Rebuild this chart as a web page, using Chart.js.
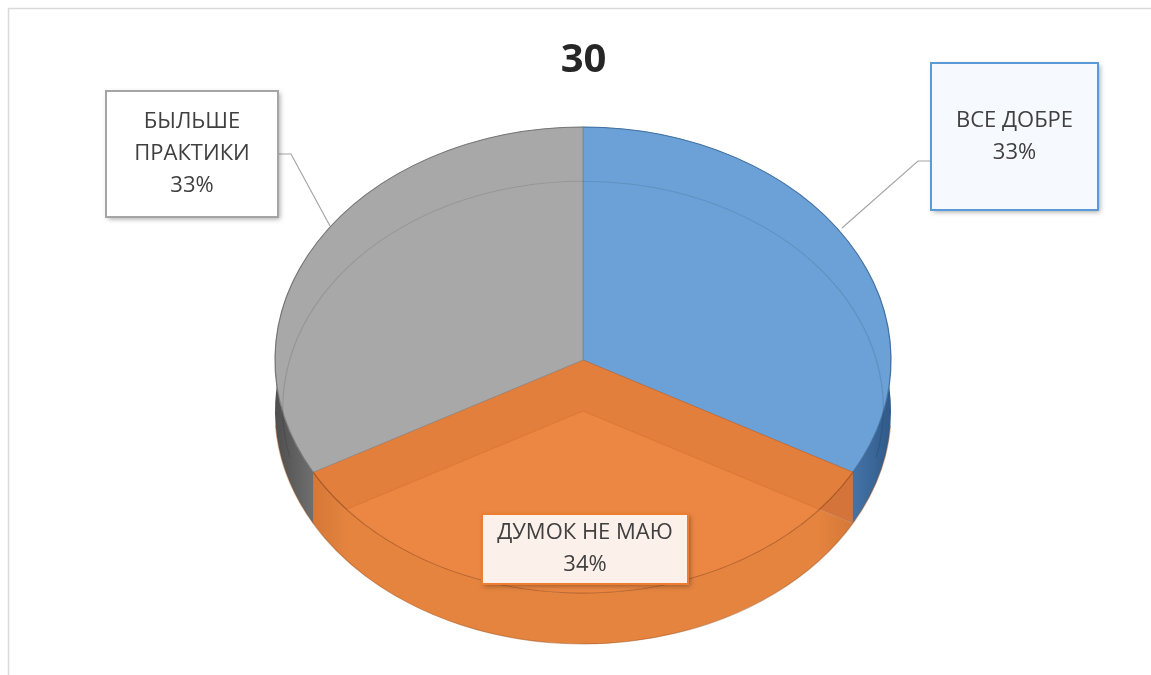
<!DOCTYPE html>
<html>
<head>
<meta charset="utf-8">
<script src="https://cdn.jsdelivr.net/npm/chart.js@4"></script>
<style>
  html, body { margin: 0; padding: 0; background: #fff; overflow: hidden; }
  #wrap { position: absolute; left: 0; top: 0; width: 1151px; height: 675px; }
</style>
</head>
<body>
<div id="wrap"><canvas id="c" width="1151" height="675"></canvas></div>
<script>
// ---- data ----
const chartTitle = '30';
const categories = ['ВСЕ ДОБРЕ', 'ДУМОК НЕ МАЮ', 'БЫЛЬШЕ ПРАКТИКИ'];
const values = [33, 34, 33];
const labelLines = [['ВСЕ ДОБРЕ'], ['ДУМОК НЕ МАЮ'], ['БЫЛЬШЕ', 'ПРАКТИКИ']];

// ---- styles ----
const topColors = ['#6BA1D6', '#E27F3D', '#A8A8A8'];
const edgeColors = ['#4F84BC', '#C9692C', '#8C8C8C'];
const sideMid = ['#5B8CC2', '#E4843F', '#8E8E8E'];
const sideDark = ['#2F5A8A', '#C66A2E', '#4E4E4E'];
const faceColors = ['#4F80B5', '#D5743A', '#7F7F7F'];
const boxFill = ['#F6F9FD', '#FCF0EA', '#FFFFFF'];
const boxStroke = ['#5B9BD5', '#ED7D31', '#A5A5A5'];

const CX = 583, CY = 360, RX = 308, RY = 233, DEPTH = 51;

const boxes = [
  { x: 931, y: 63, w: 167, h: 147, leader: [[931, 161], [918, 161], [842, 228]] },
  { x: 482, y: 514, w: 206, h: 70, leader: null },
  { x: 106, y: 91, w: 172, h: 126, leader: [[278, 154], [291, 154], [330, 226]] }
];

function applyXf(ctx, meta) {
  const a = meta.data[0];
  const sx = RX / a.outerRadius, sy = RY / a.outerRadius;
  ctx.translate(CX, CY); ctx.scale(sx, sy); ctx.translate(-a.x, -a.y);
  return { sx, sy, a };
}

const pie3d = {
  id: 'pie3d',
  beforeDraw(chart) {
    const ctx = chart.ctx;
    ctx.save();
    ctx.strokeStyle = '#D9D9D9';
    ctx.lineWidth = 1.5;
    ctx.beginPath();
    ctx.moveTo(8.5, 700); ctx.lineTo(8.5, 8.5); ctx.lineTo(1200, 8.5);
    ctx.stroke();
    ctx.restore();
  },
  beforeDatasetsDraw(chart) {
    const ctx = chart.ctx;
    const meta = chart.getDatasetMeta(0);
    ctx.save();
    const { sx, sy, a } = applyXf(ctx, meta);
    const d = DEPTH / sy;
    const r = a.outerRadius;
    const order = [2, 0, 1];
    // radial (cut) faces
    order.forEach(i => {
      const arc = meta.data[i];
      [arc.startAngle, arc.endAngle].forEach(ang => {
        const ex = arc.x + arc.outerRadius * Math.cos(ang);
        const ey = arc.y + arc.outerRadius * Math.sin(ang);
        ctx.beginPath();
        ctx.moveTo(arc.x, arc.y);
        ctx.lineTo(ex, ey);
        ctx.lineTo(ex, ey + d);
        ctx.lineTo(arc.x, arc.y + d);
        ctx.closePath();
        ctx.fillStyle = faceColors[i];
        ctx.fill();
      });
    });
    // outer walls
    order.forEach(i => {
      const arc = meta.data[i];
      const g = ctx.createLinearGradient(a.x - r, 0, a.x + r, 0);
      g.addColorStop(0, sideDark[i]);
      g.addColorStop(0.12, sideMid[i]);
      g.addColorStop(0.5, sideMid[i]);
      g.addColorStop(0.88, sideMid[i]);
      g.addColorStop(1, sideDark[i]);
      ctx.fillStyle = g;
      ctx.beginPath();
      ctx.moveTo(arc.x, arc.y + d);
      ctx.arc(arc.x, arc.y + d, arc.outerRadius, arc.startAngle, arc.endAngle);
      ctx.lineTo(arc.x + arc.outerRadius * Math.cos(arc.endAngle), arc.y + arc.outerRadius * Math.sin(arc.endAngle));
      ctx.arc(arc.x, arc.y, arc.outerRadius, arc.endAngle, arc.startAngle, true);
      ctx.closePath();
      ctx.fill();
    });
    // bottom outline of the wall
    ctx.beginPath();
    ctx.arc(a.x, a.y + d, r, 0.02 * Math.PI, 0.98 * Math.PI);
    ctx.strokeStyle = 'rgba(150,80,30,0.45)';
    ctx.lineWidth = 1 / sy;
    ctx.stroke();
  },
  afterDatasetsDraw(chart) {
    const ctx = chart.ctx;
    const meta = chart.getDatasetMeta(0);
    const a = meta.data[0];
    const sy = RY / a.outerRadius;
    const d = DEPTH / sy;
    const r = a.outerRadius;
    // translucent look: bottom face of the front slice seen through the top
    const o = meta.data[1];
    ctx.save();
    ctx.beginPath();
    ctx.moveTo(o.x, o.y);
    ctx.arc(o.x, o.y, o.outerRadius, o.startAngle, o.endAngle);
    ctx.closePath();
    ctx.clip();
    ctx.beginPath();
    ctx.moveTo(o.x, o.y + d);
    ctx.arc(o.x, o.y + d, o.outerRadius * 0.985, o.startAngle, o.endAngle);
    ctx.closePath();
    ctx.fillStyle = 'rgba(242,140,72,0.6)';
    ctx.fill();
    ctx.strokeStyle = 'rgba(190,95,35,0.25)';
    ctx.lineWidth = 1 / sy;
    ctx.stroke();
    ctx.restore();
    // back bottom rim seen through the top face
    ctx.beginPath();
    ctx.arc(a.x, a.y + d * 0.95, r * 0.975, 0.93 * Math.PI, 2.07 * Math.PI);
    ctx.strokeStyle = 'rgba(0,0,0,0.1)';
    ctx.lineWidth = 1 / sy;
    ctx.stroke();
    // top rim
    ctx.beginPath();
    ctx.arc(a.x, a.y, r, 0, 2 * Math.PI);
    ctx.strokeStyle = 'rgba(0,0,0,0.15)';
    ctx.lineWidth = 1 / sy;
    ctx.stroke();
    ctx.restore();
  },
  afterDraw(chart) {
    const ctx = chart.ctx;
    const total = values.reduce((s, v) => s + v, 0);
    ctx.save();
    boxes.forEach((b, i) => {
      if (b.leader) {
        ctx.beginPath();
        ctx.moveTo(b.leader[0][0], b.leader[0][1]);
        for (let k = 1; k < b.leader.length; k++) ctx.lineTo(b.leader[k][0], b.leader[k][1]);
        ctx.strokeStyle = '#A6A6A6';
        ctx.lineWidth = 1.2;
        ctx.stroke();
      }
      ctx.save();
      ctx.shadowColor = 'rgba(0,0,0,0.35)';
      ctx.shadowBlur = 5;
      ctx.shadowOffsetX = 2;
      ctx.shadowOffsetY = 2;
      ctx.fillStyle = boxFill[i];
      ctx.fillRect(b.x, b.y, b.w, b.h);
      ctx.restore();
      ctx.strokeStyle = boxStroke[i];
      ctx.lineWidth = 2;
      ctx.strokeRect(b.x, b.y, b.w, b.h);
      const lines = labelLines[i].concat([Math.round(values[i] / total * 100) + '%']);
      ctx.fillStyle = '#404040';
      ctx.font = '22px "Open Sans", "Noto Sans", sans-serif';
      ctx.textAlign = 'center';
      ctx.textBaseline = 'middle';
      const lh = 32;
      const cy = b.y + b.h / 2 - (lines.length - 1) * lh / 2;
      lines.forEach((t, k) => ctx.fillText(t, b.x + b.w / 2, cy + k * lh));
    });
    ctx.restore();
  }
};

new Chart(document.getElementById('c'), {
  type: 'pie',
  data: {
    labels: categories,
    datasets: [{
      data: values,
      backgroundColor: topColors,
      borderColor: edgeColors,
      borderWidth: 1,
      hoverOffset: 0,
      clip: false
    }]
  },
  options: {
    responsive: false,
    animation: false,
    events: [],
    layout: { padding: { left: 56, right: 40, top: 0, bottom: 20 } },
    plugins: {
      legend: { display: false },
      tooltip: { enabled: false },
      title: {
        display: true,
        text: chartTitle,
        color: '#262626',
        font: { family: '"Open Sans", "Noto Sans", sans-serif', size: 40, weight: 'bold' },
        padding: { top: 37, bottom: 10 }
      }
    }
  },
  plugins: [pie3d]
});
</script>
</body>
</html>
